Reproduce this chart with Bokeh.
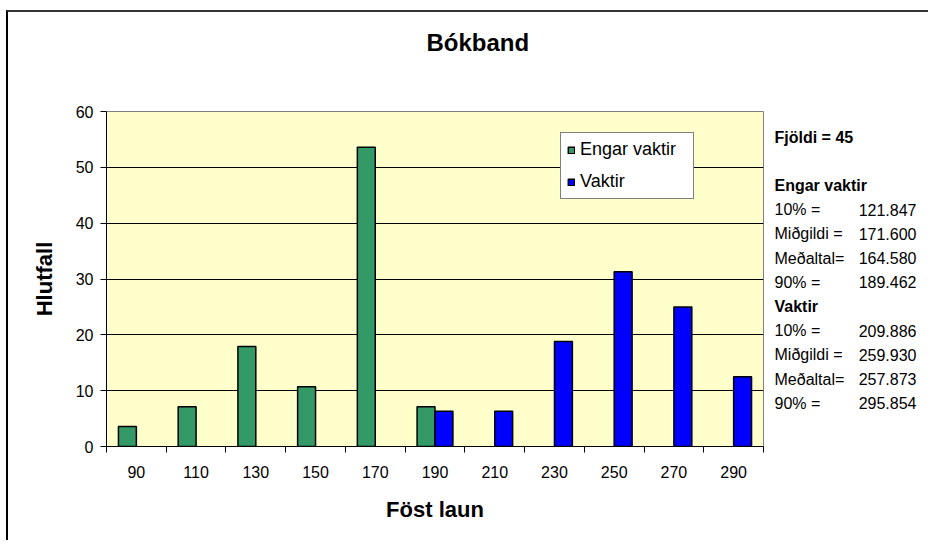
from bokeh.plotting import figure
from bokeh.models import (FixedTicker, Legend, LegendItem, ColumnDataSource,
                          Range1d, Title)
from bokeh.layouts import row
from bokeh.transform import dodge
from bokeh.core.properties import value
from bokeh.embed import file_html
from bokeh.resources import INLINE

# ---- data ----
categories = ["90", "110", "130", "150", "170", "190", "210", "230", "250", "270", "290"]
engar_vaktir = [3.6, 7.1, 17.9, 10.7, 53.6, 7.1, None, None, None, None, None]
vaktir = [None, None, None, None, None, 6.3, 6.3, 18.8, 31.3, 25.0, 12.5]
y_ticks = [0, 10, 20, 30, 40, 50, 60]
title_text = "Bókband"
x_label = "Föst laun"
y_label = "Hlutfall"
series_names = ["Engar vaktir", "Vaktir"]
count_text = "Fjöldi = 45"
stat_names = ["10% =", "Miðgildi =", "Meðaltal=", "90% ="]
engar_stats = ["121.847", "171.600", "164.580", "189.462"]
vaktir_stats = ["209.886", "259.930", "257.873", "295.854"]

FONT = "Liberation Sans"
GREEN = "#339966"
BLUE = "#0000FF"

idx = list(range(len(categories)))
src_g = ColumnDataSource(dict(i=[i for i in idx if engar_vaktir[i] is not None],
                              v=[engar_vaktir[i] for i in idx if engar_vaktir[i] is not None]))
src_b = ColumnDataSource(dict(i=[i for i in idx if vaktir[i] is not None],
                              v=[vaktir[i] for i in idx if vaktir[i] is not None]))

FRAME_W, FRAME_H = 657, 335
LEFT, TOP = 98, 99
W, H = 760, 530

p = figure(width=W, height=H, output_backend="svg", toolbar_location=None,
           x_range=Range1d(-0.5, len(categories) - 0.5), y_range=Range1d(0, 60),
           min_border_left=LEFT, min_border_top=TOP,
           min_border_right=W - LEFT - FRAME_W, min_border_bottom=H - TOP - FRAME_H)
p.margin = (10, 0, 0, 6)
p.styles = {"border-top": "2px solid #333333", "border-left": "2px solid #000000"}

p.background_fill_color = "#FFFFCC"
p.border_fill_color = "white"
p.outline_line_color = "#808080"
p.outline_line_width = 1

g = p.vbar(x=dodge("i", -0.15, range=p.x_range), top="v", width=0.3, source=src_g,
           fill_color=GREEN, line_color="black", line_width=1.5)
b = p.vbar(x=dodge("i", 0.15, range=p.x_range), top="v", width=0.3, source=src_b,
           fill_color=BLUE, line_color="black", line_width=1.5)

# title: a blank spacer next to the frame, then the real title further out
p.add_layout(Title(text="\u00a0", standoff=27, text_color="white",
                   text_font=FONT, text_font_size="24px"), "above")
p.add_layout(Title(text=title_text, align="left", offset=320, standoff=0,
                   text_font=FONT, text_font_style="bold", text_font_size="24px",
                   text_color="black"), "above")

# grid
p.xgrid.visible = False
p.ygrid.ticker = FixedTicker(ticks=y_ticks)
p.ygrid.grid_line_color = "black"
p.ygrid.grid_line_width = 1

# y axis
ya = p.yaxis[0]
ya.ticker = FixedTicker(ticks=y_ticks)
ya.axis_line_color = "black"
ya.major_tick_line_color = "black"
ya.major_tick_out = 6
ya.major_tick_in = 0
ya.minor_tick_line_color = None
ya.major_label_text_font = FONT
ya.major_label_text_font_size = "16px"
ya.major_label_text_color = "black"
ya.major_label_standoff = 7
ya.axis_label = y_label
ya.axis_label_text_font = FONT
ya.axis_label_text_font_style = "bold"
ya.axis_label_text_font_size = "22px"
ya.axis_label_text_color = "black"
ya.axis_label_standoff = 16

# x axis
xa = p.xaxis[0]
xa.ticker = FixedTicker(ticks=idx, minor_ticks=[i - 0.5 for i in range(len(categories) + 1)])
xa.major_label_overrides = {i: c for i, c in zip(idx, categories)}
xa.axis_line_color = "black"
xa.major_tick_out = 0
xa.major_tick_in = 0
xa.minor_tick_out = 6
xa.minor_tick_in = 0
xa.minor_tick_line_color = "black"
xa.major_label_text_font = FONT
xa.major_label_text_font_size = "16px"
xa.major_label_text_color = "black"
xa.major_label_standoff = 13
xa.axis_label = x_label
xa.axis_label_text_font = FONT
xa.axis_label_text_font_style = "bold"
xa.axis_label_text_font_size = "22px"
xa.axis_label_text_color = "black"
xa.axis_label_standoff = 16

# legend
legend = Legend(items=[LegendItem(label=series_names[0], renderers=[g]),
                       LegendItem(label=series_names[1], renderers=[b])],
                location=(454, 247))
legend.label_text_font = FONT
legend.label_text_font_size = "18px"
legend.label_text_color = "black"
legend.glyph_width = 8
legend.glyph_height = 8
legend.label_standoff = 5
legend.label_height = 20
legend.label_width = 107
legend.spacing = 11
legend.padding = 6
legend.margin = 0
legend.border_line_color = "black"
legend.border_line_width = 1
legend.background_fill_color = "white"
legend.background_fill_alpha = 1
p.add_layout(legend, "center")

# ---- stats panel on the right (frame aligned with the chart frame) ----
QW = 162
q = figure(width=QW, height=H, output_backend="svg", toolbar_location=None,
           x_range=Range1d(0, QW), y_range=Range1d(446, 111),
           x_axis_type=None, y_axis_type=None, min_border=0,
           min_border_top=TOP, min_border_bottom=H - TOP - FRAME_H)
q.margin = (10, 0, 0, 0)
q.styles = {"border-top": "2px solid #333333"}
q.grid.visible = False
q.outline_line_color = None
q.background_fill_color = "white"
q.border_fill_color = "white"

first_y = 136.6
step = 24.2
lines = [(count_text, None, True), ("", None, False), (series_names[0], None, True)]
lines += [(n, v, False) for n, v in zip(stat_names, engar_stats)]
lines.append((series_names[1], None, True))
lines += [(n, v, False) for n, v in zip(stat_names, vaktir_stats)]

bold_x, bold_y, bold_t = [], [], []
name_x, name_y, name_t = [], [], []
val_x, val_y, val_t = [], [], []
for k, (name, val, bold) in enumerate(lines):
    yy = first_y + k * step
    if not name:
        continue
    if bold:
        bold_x.append(8); bold_y.append(yy); bold_t.append(name)
    else:
        name_x.append(8); name_y.append(yy); name_t.append(name)
    if val:
        val_x.append(150); val_y.append(yy); val_t.append(val)

q.text(x=bold_x, y=bold_y, text=bold_t, text_font=value(FONT), text_font_size=value("16px"),
       text_font_style="bold", text_align="left", text_baseline="middle", text_color="black")
q.text(x=name_x, y=name_y, text=name_t, text_font=value(FONT), text_font_size=value("16px"),
       text_align="left", text_baseline="middle", text_color="black")
q.text(x=val_x, y=val_y, text=val_t, text_font=value(FONT), text_font_size=value("16px"),
       text_align="right", text_baseline="middle", text_color="black")

layout = row(p, q)
open("out.html", "w").write(file_html(layout, INLINE))
